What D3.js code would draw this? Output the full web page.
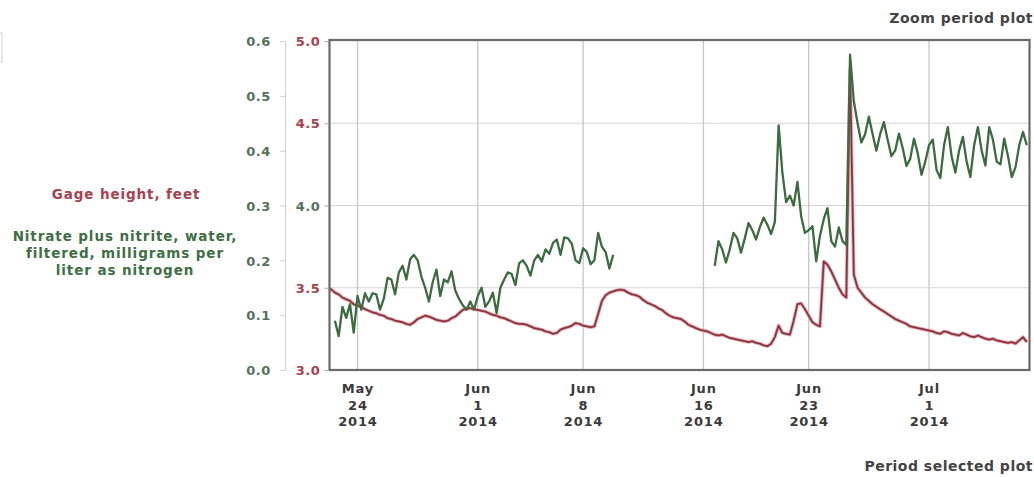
<!DOCTYPE html>
<html>
<head>
<meta charset="utf-8">
<script src="https://cdn.jsdelivr.net/npm/d3@7"></script>
<style>
  html, body { margin: 0; padding: 0; background: #fff; }
  svg { display: block; font-family: "DejaVu Sans", Verdana, sans-serif; font-weight: bold; }
</style>
</head>
<body>
<svg id="chart" width="1034" height="477"></svg>
<script>
// 6-hourly readings starting 2014-05-22 00:00 UTC
const sampleStart = Date.UTC(2014, 4, 22, 0, 0);
const sampleStepHours = 6;

// Gage height, feet (one row per day: 00h, 06h, 12h, 18h)
const gageHeight = [
  3.50, 3.49, 3.47, 3.46,   3.44, 3.43, 3.42, 3.40,   3.39, 3.385, 3.37, 3.36,
  3.35, 3.345, 3.335, 3.33, 3.315, 3.31, 3.30, 3.295, 3.29, 3.28, 3.275, 3.29,
  3.31, 3.32, 3.33, 3.325,  3.315, 3.305, 3.30, 3.295, 3.30, 3.315, 3.325, 3.345,
  3.366, 3.372, 3.376, 3.37, 3.365, 3.36, 3.355, 3.345, 3.335, 3.33, 3.32, 3.315,
  3.305, 3.295, 3.285, 3.28, 3.28, 3.275, 3.265, 3.255, 3.25, 3.245, 3.235, 3.23,
  3.22, 3.225, 3.245, 3.255, 3.26, 3.27, 3.285, 3.28,  3.27, 3.265, 3.26, 3.265,
  3.34, 3.42, 3.455, 3.47,  3.478, 3.485, 3.488, 3.484, 3.47, 3.46, 3.455, 3.445,
  3.425, 3.41, 3.40, 3.39,  3.375, 3.365, 3.345, 3.33, 3.32, 3.315, 3.31, 3.295,
  3.275, 3.265, 3.255, 3.245, 3.24, 3.235, 3.225, 3.215, 3.21, 3.215, 3.205, 3.195,
  3.19, 3.185, 3.18, 3.175, 3.17, 3.175, 3.165, 3.16,  3.15, 3.145, 3.16, 3.20,
  3.27, 3.225, 3.22, 3.215, 3.30, 3.40, 3.405, 3.37,   3.33, 3.29, 3.275, 3.265,
  3.66, 3.64, 3.60, 3.55,   3.50, 3.46, 3.44, 4.83,    3.58, 3.50, 3.47, 3.44,
  3.42, 3.40, 3.385, 3.37,  3.355, 3.34, 3.325, 3.31,  3.30, 3.29, 3.28, 3.265,
  3.26, 3.255, 3.25, 3.245, 3.24, 3.235, 3.225, 3.22,  3.235, 3.23, 3.22, 3.215,
  3.21, 3.225, 3.215, 3.205, 3.20, 3.21, 3.20, 3.19,   3.185, 3.19, 3.18, 3.175,
  3.17, 3.165, 3.17, 3.16,  3.18, 3.20, 3.17
];

// Nitrate plus nitrite, mg/L as N (null = no record)
const nitrate = [
  null, null, 0.09, 0.062,  0.115, 0.095, 0.12, 0.068, 0.135, 0.11, 0.14, 0.125,
  0.14, 0.138, 0.11, 0.13,  0.168, 0.165, 0.138, 0.178, 0.19, 0.165, 0.202, 0.21,
  0.20, 0.17, 0.15, 0.125,  0.16, 0.183, 0.135, 0.165, 0.16, 0.18, 0.145, 0.13,
  0.118, 0.11, 0.125, 0.11, 0.135, 0.15, 0.115, 0.125, 0.141, 0.104, 0.15, 0.165,
  0.178, 0.175, 0.155, 0.195, 0.20, 0.19, 0.172, 0.20, 0.21, 0.198, 0.22, 0.212,
  0.232, 0.238, 0.21, 0.242, 0.24, 0.23, 0.20, 0.195,  0.222, 0.215, 0.193, 0.20,
  0.25, 0.225, 0.215, 0.185, 0.21, null, null, null,
  null, null, null, null,   null, null, null, null,    null, null, null, null,
  null, null, null, null,   null, null, null, null,
  null, null, null, 0.19,   0.235, 0.22, 0.196, 0.22,  0.25, 0.24, 0.214, 0.24,
  0.268, 0.255, 0.238, 0.26, 0.278, 0.265, 0.248, 0.27,
  0.446, 0.36, 0.306, 0.318, 0.30, 0.343, 0.28, 0.25, 0.255, 0.262, 0.198, 0.245,
  0.275, 0.295, 0.235, 0.225, 0.26, 0.235, 0.228, 0.575, 0.49, 0.45, 0.415, 0.43,
  0.462, 0.43, 0.40, 0.43,  0.452, 0.42, 0.39, 0.40,  0.431, 0.405, 0.372, 0.385,
  0.422, 0.395, 0.356, 0.38, 0.41, 0.42, 0.365, 0.35, 0.41, 0.443, 0.39, 0.36,
  0.40, 0.425, 0.38, 0.352, 0.41, 0.443, 0.40, 0.373, 0.443, 0.42, 0.38, 0.375,
  0.422, 0.39, 0.352, 0.37, 0.41, 0.434, 0.41
];

const dateTicks = ["2014-05-24", "2014-06-01", "2014-06-08", "2014-06-16", "2014-06-23", "2014-07-01"];
const dateTickLabels = [
  ["May", "24", "2014"], ["Jun", "1", "2014"], ["Jun", "8", "2014"],
  ["Jun", "16", "2014"], ["Jun", "23", "2014"], ["Jul", "1", "2014"]
];
const gageTicks = [3.0, 3.5, 4.0, 4.5, 5.0];
const nitrateTicks = [0.0, 0.1, 0.2, 0.3, 0.4, 0.5, 0.6];

const gageTitle = "Gage height, feet";
const nitrateTitle = ["Nitrate plus nitrite, water,", "filtered, milligrams per", "liter as nitrogen"];
const topCaption = "Zoom period plot";
const bottomCaption = "Period selected plot";

// ---- layout ----
const svg = d3.select("#chart");
const plot = { left: 329.5, right: 1029.5, top: 41, bottom: 370 };

const x = d3.scaleUtc()
  .domain([new Date(Date.UTC(2014, 4, 22, 3, 20)), new Date(Date.UTC(2014, 6, 7, 16, 20))])
  .range([plot.left, plot.right]);
const yGage = d3.scaleLinear().domain([3, 5]).range([plot.bottom, plot.top]);
const yNitrate = d3.scaleLinear().domain([0, 0.6]).range([plot.bottom, plot.top]);

const timeAt = i => new Date(sampleStart + i * sampleStepHours * 3600e3);
const gageData = gageHeight.map((v, i) => ({ t: timeAt(i), v }));
const nitrateData = nitrate.map((v, i) => ({ t: timeAt(i), v }));
const tickDates = dateTicks.map(s => new Date(s + "T00:00:00Z"));

const red = "#a8404f";
const green = "#56705a";

// stray control edge at the far left
svg.append("rect").attr("x", -12).attr("y", 33).attr("width", 14).attr("height", 29)
  .attr("fill", "none").attr("stroke", "#d4d4d4");

// captions
svg.append("text").attr("x", 1033).attr("y", 23).attr("text-anchor", "end")
  .attr("font-size", 14).attr("letter-spacing", 0.5).attr("fill", "#444").text(topCaption);
svg.append("text").attr("x", 1033).attr("y", 471).attr("text-anchor", "end")
  .attr("font-size", 14).attr("letter-spacing", 0.5).attr("fill", "#444").text(bottomCaption);

// clip for the data area
svg.append("defs").append("clipPath").attr("id", "plotClip")
  .append("rect").attr("x", plot.left).attr("y", plot.top - 2)
  .attr("width", plot.right - plot.left).attr("height", plot.bottom - plot.top + 2);

// grid
const grid = svg.append("g");
grid.selectAll("line.h").data(gageTicks.slice(1, -1)).join("line")
  .attr("x1", plot.left).attr("x2", plot.right)
  .attr("y1", d => yGage(d)).attr("y2", d => yGage(d))
  .attr("stroke", "#dcd4d4").attr("stroke-width", 1.2);
grid.selectAll("line.v").data(tickDates).join("line")
  .attr("x1", d => x(d)).attr("x2", d => x(d))
  .attr("y1", plot.top).attr("y2", plot.bottom)
  .attr("stroke", "#c6c6c6").attr("stroke-width", 1.3);

// series
const data = svg.append("g").attr("clip-path", "url(#plotClip)");
const gageLine = d3.line().x(d => x(d.t)).y(d => yGage(d.v));
const nitrateLine = d3.line().defined(d => d.v != null).x(d => x(d.t)).y(d => yNitrate(d.v));

data.append("path").datum(gageData).attr("d", gageLine)
  .attr("fill", "none").attr("stroke", "#e6aab2").attr("stroke-width", 3.6).attr("stroke-linejoin", "round");
data.append("path").datum(gageData).attr("d", gageLine)
  .attr("fill", "none").attr("stroke", "#8a3440").attr("stroke-width", 1.8).attr("stroke-linejoin", "round");
data.append("path").datum(nitrateData).attr("d", nitrateLine)
  .attr("fill", "none").attr("stroke", "#3c6b40").attr("stroke-width", 2.3).attr("stroke-linejoin", "round");

// frame
svg.append("rect").attr("x", plot.left).attr("y", plot.top - 1)
  .attr("width", plot.right - plot.left).attr("height", plot.bottom - plot.top + 1)
  .attr("fill", "none").attr("stroke", "#6a6a6a").attr("stroke-width", 2.2);

// gage axis (on the frame)
const gAxis = svg.append("g").attr("transform", `translate(${plot.left - 1},0)`)
  .call(d3.axisLeft(yGage).tickValues(gageTicks).tickSize(4).tickPadding(4).tickFormat(d3.format(".1f")));
gAxis.select(".domain").remove();
gAxis.selectAll(".tick line").attr("stroke", "#aaa");
gAxis.selectAll(".tick text")
  .attr("font-family", "DejaVu Sans, Verdana, sans-serif").attr("font-weight", "bold")
  .attr("font-size", 13).attr("letter-spacing", 0.6).attr("dy", "0.36em")
  .attr("fill", d => d === 4 ? green : red);

// nitrate axis
const nAxis = svg.append("g").attr("transform", "translate(285,0)")
  .call(d3.axisLeft(yNitrate).tickValues(nitrateTicks).tickSize(5).tickSizeOuter(0).tickPadding(9).tickFormat(d3.format(".1f")));
nAxis.select(".domain").attr("stroke", "#cfcfcf");
nAxis.selectAll(".tick line").attr("stroke", "#cfcfcf");
nAxis.selectAll(".tick text")
  .attr("font-family", "DejaVu Sans, Verdana, sans-serif").attr("font-weight", "bold")
  .attr("font-size", 13).attr("letter-spacing", 0.6).attr("dy", "0.36em").attr("fill", green);

// date labels
const xl = svg.append("g").attr("font-size", 13).attr("letter-spacing", 0.8).attr("fill", "#3a3a3a");
tickDates.forEach((d, i) => {
  const t = xl.append("text").attr("text-anchor", "middle").attr("x", x(d) + 0.4);
  dateTickLabels[i].forEach((s, j) => {
    t.append("tspan").attr("x", x(d) + 0.4).attr("y", 393 + j * 16.5).text(s);
  });
});

// series titles
svg.append("text").attr("x", 126).attr("y", 199).attr("text-anchor", "middle")
  .attr("font-size", 13.5).attr("letter-spacing", 0.9).attr("fill", red).text(gageTitle);
const nt = svg.append("text").attr("text-anchor", "middle")
  .attr("font-size", 13.5).attr("letter-spacing", 0.9).attr("fill", "#3f6e43");
nitrateTitle.forEach((s, j) => {
  nt.append("tspan").attr("x", 125).attr("y", 241 + j * 17).text(s);
});
</script>
</body>
</html>
